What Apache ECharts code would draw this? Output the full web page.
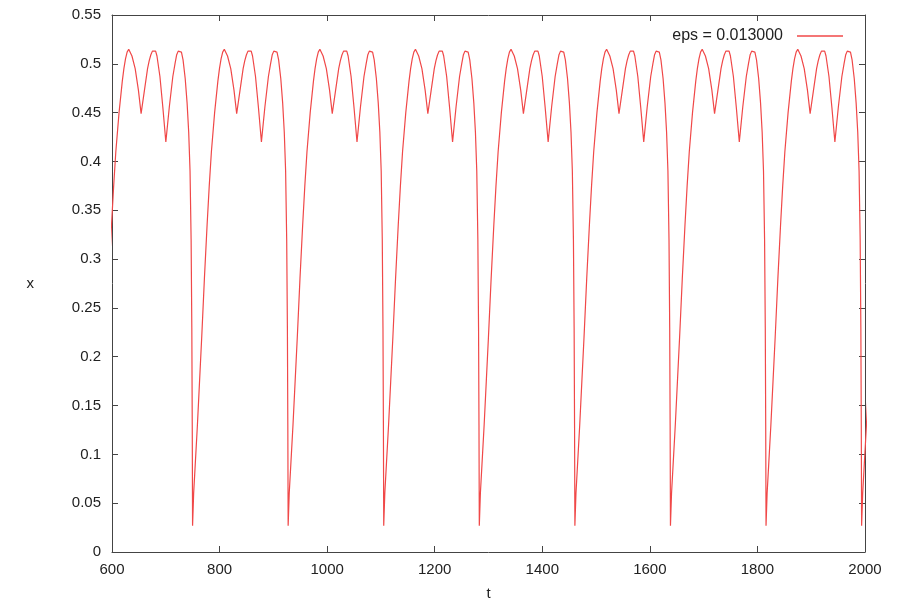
<!DOCTYPE html>
<html>
<head>
<meta charset="utf-8">
<script src="https://cdn.jsdelivr.net/npm/echarts@6/dist/echarts.min.js"></script>
<style>
    html, body { margin: 0; padding: 0; background: #fff; }
    #main { width: 903px; height: 602px; }
</style>
</head>
<body>
<div id="main"></div>
<script>
// times (t) of the deep minima (one before the visible range)
var dropTimes = [572.1, 749.8, 927.5, 1105.2, 1282.9, 1460.6, 1638.3, 1816.0, 1993.7];

// one period of the curve, measured from a deep minimum: offset in t, value of x
var periodOffsets = [0, 2, 5, 9, 13, 17, 22, 27, 31, 35, 41, 47, 50, 53, 56, 59, 62,
    65, 71, 77, 82, 88, 94, 97, 100, 103, 106, 109, 111.5, 117, 122.5, 128,
    134.5, 141, 145, 148, 151, 154, 157, 160, 164, 167.5, 170.5, 173, 175, 176.3, 177.1];
var periodValues = [0.027, 0.06, 0.09, 0.13, 0.175, 0.22, 0.28, 0.335, 0.375, 0.41, 0.45, 0.482, 0.495, 0.505, 0.512, 0.515, 0.513,
    0.508, 0.495, 0.473, 0.449, 0.472, 0.495, 0.503, 0.509, 0.513, 0.515, 0.513, 0.508, 0.487, 0.455, 0.42,
    0.456, 0.487, 0.5, 0.509, 0.513, 0.515, 0.512, 0.504, 0.485, 0.46, 0.43, 0.39, 0.32, 0.23, 0.13];

var seriesName = 'eps = 0.013000';
var yTicks = [0, 0.05, 0.1, 0.15, 0.2, 0.25, 0.3, 0.35, 0.4, 0.45, 0.5, 0.55];
var xTicks = [600, 800, 1000, 1200, 1400, 1600, 1800, 2000];

var ExpChart = {
    getChart: function () {
        var myChart = echarts.init(document.getElementById('main'));
        var data = [];
        for (var i = 0; i < dropTimes.length; i++) {
            for (var j = 0; j < periodOffsets.length; j++) {
                data.push([dropTimes[i] + periodOffsets[j], periodValues[j]]);
            }
        }

        var axisColor = '#444';
        var font = 'Liberation Sans, Arial, sans-serif';
        var tick = {show: true, inside: true, length: 6, lineStyle: {color: axisColor}};

        option = {
            backgroundColor: '#fff',
            animation: false,
            grid: {
                left: 112,
                right: 38,
                top: 15,
                bottom: 50,
                outerBoundsMode: 'none'
            },
            legend: {
                data: [seriesName],
                right: 55,
                top: 23,
                align: 'right',
                icon: 'rect',
                itemWidth: 46,
                itemHeight: 1.5,
                textStyle: {
                    color: '#222',
                    fontFamily: font,
                    fontSize: 16,
                    padding: [0, 9, 0, 0]
                }
            },
            xAxis: [
                {
                    type: 'value',
                    min: xTicks[0],
                    max: xTicks[xTicks.length - 1],
                    interval: 200,
                    name: 't',
                    nameLocation: 'middle',
                    nameGap: 34,
                    nameTextStyle: {color: '#222', fontFamily: font, fontSize: 15},
                    axisLine: {show: true, onZero: false, lineStyle: {color: axisColor, width: 1}},
                    axisTick: tick,
                    axisLabel: {
                        color: '#222',
                        fontFamily: font,
                        fontSize: 15,
                        margin: 10,
                        formatter: function (v) { return String(v); }
                    },
                    splitLine: {show: false}
                },
                {
                    type: 'value',
                    position: 'top',
                    min: xTicks[0],
                    max: xTicks[xTicks.length - 1],
                    interval: 200,
                    axisLine: {show: true, onZero: false, lineStyle: {color: axisColor, width: 1}},
                    axisTick: tick,
                    axisLabel: {show: false},
                    splitLine: {show: false}
                }
            ],
            yAxis: [
                {
                    type: 'value',
                    min: yTicks[0],
                    max: yTicks[yTicks.length - 1],
                    interval: 0.05,
                    name: 'x',
                    nameLocation: 'middle',
                    nameRotate: 0,
                    nameGap: 78,
                    nameTextStyle: {color: '#222', fontFamily: font, fontSize: 15},
                    axisLine: {show: true, onZero: false, lineStyle: {color: axisColor, width: 1}},
                    axisTick: tick,
                    axisLabel: {
                        color: '#222',
                        fontFamily: font,
                        fontSize: 15,
                        margin: 11
                    },
                    splitLine: {show: false}
                },
                {
                    type: 'value',
                    position: 'right',
                    min: yTicks[0],
                    max: yTicks[yTicks.length - 1],
                    interval: 0.05,
                    axisLine: {show: true, onZero: false, lineStyle: {color: axisColor, width: 1}},
                    axisTick: tick,
                    axisLabel: {show: false},
                    splitLine: {show: false}
                }
            ],
            series: [
                {
                    name: seriesName,
                    type: 'line',
                    data: data,
                    showSymbol: false,
                    clip: true,
                    color: '#f04848',
                    lineStyle: {color: '#f04848', width: 1.2}
                }
            ]
        };

        myChart.setOption(option);
    }
};

ExpChart.getChart();
</script>
</body>
</html>
